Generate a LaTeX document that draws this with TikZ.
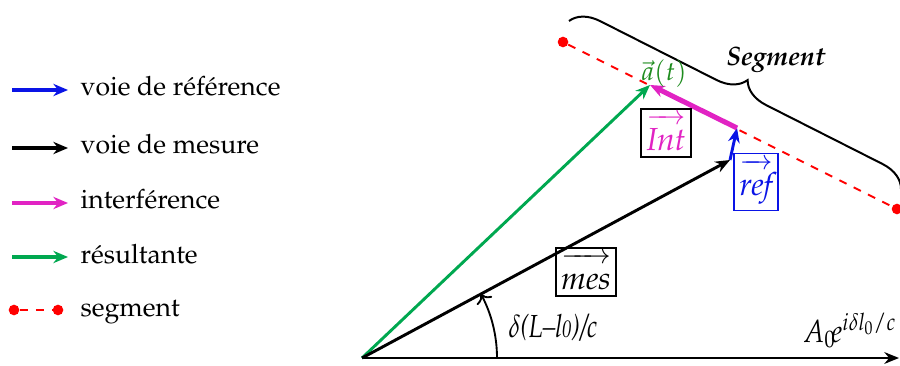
\documentclass[tikz,border=0pt]{standalone}
\usepackage[T1]{fontenc}
\usepackage{mathpazo}
\usetikzlibrary{arrows.meta,decorations.pathreplacing}

\definecolor{refblue}{RGB}{10,20,230}
\definecolor{intmag}{RGB}{225,35,195}
\definecolor{resgreen}{RGB}{0,168,80}
\definecolor{atgreen}{RGB}{30,140,30}

\newcommand{\vlab}[1]{$\overrightarrow{\rule{0pt}{2.3ex}\mbox{\large\itshape #1}}$}

\tikzset{
  vec/.style={line width=1.1pt,-{Stealth[length=5.5pt,width=4.4pt]}},
  refvec/.style={vec,draw=refblue},
  mesvec/.style={vec,draw=black},
  intvec/.style={vec,draw=intmag,line width=1.9pt,-{Stealth[length=5.5pt,width=4.5pt]}},
  resvec/.style={vec,draw=resgreen},
  legvec/.style={line width=1.2pt,-{Stealth[length=5.5pt,width=4.6pt]}},
  seg/.style={red,dashed,line width=0.75pt},
  dot/.style={circle,fill=red,inner sep=0pt,minimum size=4pt},
  tag/.style={draw,line width=0.6pt,inner xsep=2pt,inner ysep=2.2pt},
  legend/.style={anchor=base west,inner sep=0pt},
}

\begin{document}
\begin{tikzpicture}[x=0.376pt,y=0.376pt]
    \useasboundingbox (0,0) rectangle (900,365);

    % legende
    \coordinate (lref0) at (12,275);
    \coordinate (lref1) at (68,275);
    \node[legend] (lref) at (80,269) {voie de r\'ef\'erence};
    \draw[legvec,draw=refblue] (lref0) -- (lref1);

    \coordinate (lmes0) at (12,217);
    \coordinate (lmes1) at (68,217);
    \node[legend] (lmes) at (80,211) {voie de mesure};
    \draw[legvec] (lmes0) -- (lmes1);

    \coordinate (lint0) at (12,162);
    \coordinate (lint1) at (68,162);
    \node[legend] (lint) at (80,156) {interf\'erence};
    \draw[legvec,draw=intmag] (lint0) -- (lint1);

    \coordinate (lres0) at (12,108);
    \coordinate (lres1) at (68,108);
    \node[legend] (lres) at (80,102) {r\'esultante};
    \draw[legvec,draw=resgreen] (lres0) -- (lres1);

    \node[dot] (lseg0) at (14,55) {};
    \node[dot] (lseg1) at (58,55) {};
    \node[legend] (lseg) at (80,49) {segment};
    \draw[seg] (lseg0) -- (lseg1);

    % vecteurs
    \coordinate (O) at (362,7);
    \coordinate (E) at (899,7);
    \coordinate (M) at (730,205);
    \coordinate (R) at (737,237);
    \coordinate (A) at (650,280);

    \node[dot] (s1) at (563,323) {};
    \node[dot] (s2) at (897,156) {};
    \draw[seg] (s1) -- (s2);

    \draw[mesvec] (O) -- (E);
    \draw[resvec] (O) -- (A);
    \draw[mesvec] (O) -- (M);
    \draw[refvec] (M) -- (R);
    \draw[intvec] (R) -- (A);

    % accolade
    \coordinate (b1) at (569,344);
    \coordinate (b2) at (901,176);
    \draw[decorate,decoration={brace,amplitude=10.5pt},line width=0.75pt] (b1) -- (b2);
    \node (seglbl) at (776,305) {\textbf{\textit{Segment}}};

    % etiquettes
    \node[text=atgreen] (at) at (664,291) {$\vec{a}(t)$};
    \node[tag,text=intmag] (int) at (666,232) {\vlab{Int}};
    \node[tag,draw=refblue,text=refblue] (ref) at (756,183) {\vlab{ref}};
    \node[tag] (mes) at (586,93) {\vlab{mes}};

    \draw[-To,line width=0.7pt] ([shift={(0:135)}]O) arc[start angle=0,end angle=28.3,radius=135];
    \node (ang) at (553,37) {\scalebox{0.78}[1]{\large$\delta$\textit{(L--l{\small 0})/c}}};
    \node[anchor=base east,inner sep=0pt] (amp) at (897,23) {\scalebox{0.85}[1]{\large$A_0\!e^{i\delta l_0/c}$}};
\end{tikzpicture}
\end{document}
